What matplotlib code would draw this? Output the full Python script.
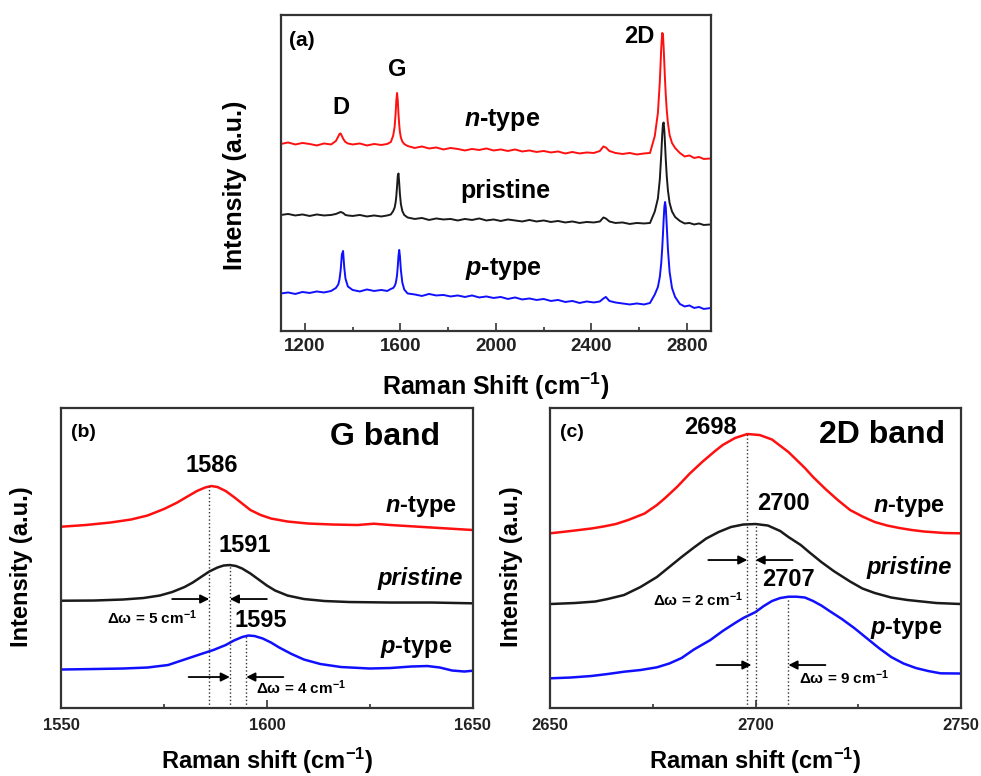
import numpy as np
import matplotlib
matplotlib.use("Agg")
import matplotlib.pyplot as plt

plt.rcParams['font.family'] = ['Liberation Sans', 'DejaVu Sans']
plt.rcParams['font.weight'] = 'bold'
plt.rcParams['axes.labelweight'] = 'bold'
plt.rcParams['mathtext.fontset'] = 'custom'
plt.rcParams['mathtext.rm'] = 'Liberation Sans:bold'
plt.rcParams['mathtext.bf'] = 'Liberation Sans:bold'
plt.rcParams['mathtext.it'] = 'Liberation Sans:italic:bold'
plt.rcParams['mathtext.default'] = 'bf'

# ---- panel (a): full spectra (shared Raman shift grid, cm-1) ----
x_a = [1100, 1130, 1160, 1190, 1220, 1250, 1280, 1310,
       1330, 1340, 1345, 1350, 1355, 1360, 1365, 1370, 1380,
       1400, 1430, 1460, 1490, 1520, 1545, 1560,
       1570, 1576, 1580, 1583, 1586, 1589, 1592, 1595, 1598, 1602, 1608, 1616, 1630,
       1660, 1690, 1720, 1750, 1780, 1810, 1840, 1870, 1900, 1930, 1960, 1990, 2020,
       2050, 2080, 2110, 2140, 2170, 2200, 2230, 2260, 2290, 2320, 2350, 2380, 2410,
       2435, 2450, 2460, 2475, 2500, 2530, 2560, 2590, 2620, 2645,
       2665, 2678, 2686, 2692, 2696, 2699, 2702, 2705, 2708, 2711, 2715, 2720, 2727, 2737, 2750,
       2770, 2790, 2810, 2830, 2850, 2870, 2900]

n_a = [187, 188.5, 186.5, 188, 187, 185.5, 187.5, 186.5,
       190, 194.5, 197, 197.5, 195, 192.5, 190.5, 189, 187.5,
       186.5, 187.5, 185.5, 187, 186, 187, 189,
       195.5, 204.5, 217.5, 230.5, 238, 230.5, 217, 206.5, 199, 193.5, 189.5, 187, 185,
       183, 184.5, 182.5, 183.5, 181.5, 183, 182, 180.5, 182, 181, 182.5, 180.5, 181.5,
       180, 181.5, 179.5, 180.5, 179, 180, 178.5, 179.5, 177.5, 179, 177.5, 178.5, 178,
       180, 184.5, 183.5, 180, 178, 177, 178, 176.5, 177.5, 178,
       195, 218, 249, 283, 298, 297, 284, 267, 250, 236, 221, 208, 196, 188, 183,
       178, 174.5, 175.5, 173, 174, 172, 172.5]

pr_a = [116, 117, 115.5, 116.5, 115, 116.5, 115.5, 116,
        117, 118, 118.5, 119, 118.5, 118, 117, 116, 115.5,
        115, 116, 114.5, 115.5, 114.5, 115.5, 116.5,
        120, 123.5, 128.5, 135, 144.5, 155, 157.5, 148, 137, 127, 120, 116, 113.5,
        112, 113, 111, 112.5, 111.5, 112, 110.5, 112, 111, 112.5, 110.5, 111.5, 110,
        111.5, 110.5, 109.5, 111, 109.5, 110.5, 109, 110, 108.5, 109.5, 108, 109, 108.5,
        109.5, 113.5, 112.5, 109.5, 108, 108.5, 107, 108, 107.5, 108,
        119.5, 132.5, 151.5, 176, 196, 206.5, 208.5, 200, 186, 171.5, 155, 140.5, 128, 119.5, 114,
        110, 107.5, 108, 106.5, 107.5, 106, 106.5]

p_a = [37.5, 38.5, 37, 39, 38, 39.5, 38.5, 40,
       43, 46.5, 51.5, 61, 76.5, 80, 63.5, 52.5, 44.5,
       41, 39.5, 41.5, 40, 41, 40, 42,
       43, 45, 47.5, 51, 56, 64.5, 75, 81, 75, 61, 48.5, 41.5, 37.5,
       36.5, 35, 37, 35.5, 36, 34.5, 35.5, 34, 35.5, 33.5, 34.5, 33, 34,
       32, 33.5, 31.5, 32.5, 31, 32, 30, 31, 29, 30, 28, 29.5, 28.5,
       29.5, 32.5, 34, 30, 28.5, 27.5, 26.5, 27.5, 26.5, 28,
       36.5, 44, 54, 68, 82.5, 96, 111, 124, 129, 123.5, 105.5, 81.5, 59, 43, 34,
       27, 24.5, 25.5, 23, 24, 22, 23]

# ---- panel (b): G band ----
xb_n = [1550, 1556, 1562, 1567, 1571, 1575, 1578, 1580.5, 1583, 1585,
        1586.5, 1588, 1590, 1592, 1594, 1596, 1598.5, 1601, 1605, 1610,
        1616, 1622, 1626, 1630, 1636, 1642, 1650]
yb_n = [181.3, 183, 185.5, 188.5, 192.5, 199, 205, 211, 217, 220.5,
        222, 221, 217, 211, 204.5, 198, 193, 189.5, 186.5, 184.5,
        183.5, 183, 184.3, 183, 181.5, 180, 178]
xb_pr = [1550, 1558, 1565, 1570, 1574, 1577, 1580, 1582, 1584, 1586,
         1588, 1589.5, 1591, 1592.5, 1594, 1596, 1598, 1600, 1602, 1605,
         1609, 1614, 1620, 1630, 1640, 1650]
yb_pr = [107.3, 107.5, 108.5, 110, 112.5, 116, 121, 125.5, 131, 136.5,
         140.5, 142.5, 143, 142, 139.5, 134.5, 128.5, 122.5, 117.5, 112.5,
         109, 107, 106, 105.5, 105.5, 104.7]
xb_p = [1550, 1558, 1565, 1571, 1576, 1580, 1584, 1587, 1590, 1592,
        1594, 1595.5, 1597, 1599, 1601, 1603, 1606, 1609, 1613, 1618,
        1625, 1630, 1635, 1639, 1642, 1645, 1648, 1650]
yb_p = [38.5, 39, 39.5, 40.5, 43, 48.5, 54, 58, 63, 67.5,
        71, 72.5, 72, 69.5, 65.5, 60.5, 54, 48.5, 44, 41,
        39.5, 40, 41.5, 42, 40.5, 37.5, 36.5, 37.3]

# ---- panel (c): 2D band ----
xc_n = [2650, 2655, 2660, 2663, 2666, 2669, 2673, 2676, 2678, 2681,
        2684, 2687, 2690, 2692, 2695, 2698, 2701, 2704, 2708, 2712,
        2714, 2717, 2720, 2723, 2726, 2729, 2732, 2735, 2738, 2741,
        2746, 2750]
yc_n = [174.7, 177, 179.5, 181.5, 184, 188, 194.5, 203, 210, 221.5,
        234.5, 246, 256.5, 263, 270, 274, 273, 268.5, 256, 240,
        231, 219, 208, 198, 191.5, 186, 182.5, 180, 178, 176.5,
        175, 174.7]
xc_pr = [2650, 2656, 2661, 2664, 2668, 2672, 2676, 2679, 2682, 2685,
         2688, 2691, 2694, 2697, 2700, 2703, 2706, 2708, 2711, 2713,
         2716, 2719, 2723, 2726, 2729, 2733, 2737, 2744, 2750]
yc_pr = [104, 105, 106.5, 109, 113, 121, 131, 141, 151, 160.5,
         169.5, 176, 181, 183.5, 184, 182.5, 177, 171, 163, 156,
         146, 137, 126.5, 119.5, 115, 110.5, 108, 105, 104]
xc_p = [2650, 2655, 2660, 2664, 2668, 2672, 2676, 2679, 2682, 2685,
        2689, 2692, 2695, 2697, 2700, 2702, 2704, 2706, 2708, 2710,
        2712, 2714, 2716, 2718, 2721, 2724, 2727, 2730, 2733, 2736,
        2739, 2742, 2745, 2750]
yc_p = [29.7, 30.5, 32, 34, 36.3, 38, 40.7, 44.5, 50, 58.5,
        68, 77, 85, 90, 96, 102, 107, 110, 111.3, 111.3,
        110.5, 107, 102.5, 97, 89, 80, 70, 60, 51, 44.5,
        40, 37, 34.7, 34.5]

# peak positions (label, line x, line top)
peaks_b = [("1586", 1586, 222), ("1591", 1591, 143), ("1595", 1595, 72.5)]
peaks_c = [("2698", 2698, 274), ("2700", 2700, 184), ("2707", 2708, 111.3)]

RED, BLACK, BLUE = '#ff1010', '#1a1a1a', '#1010ff'
SPINE = '#333333'

fig = plt.figure(figsize=(9.81, 7.76), dpi=100)


def style(ax, fs):
    for s in ax.spines.values():
        s.set_color(SPINE)
        s.set_linewidth(1.6)
    ax.tick_params(axis='x', which='both', direction='in', top=False, labelsize=fs,
                   colors=SPINE, labelcolor='#222222', width=1.2)
    ax.tick_params(axis='x', which='major', length=6)
    ax.tick_params(axis='x', which='minor', length=3)
    ax.set_yticks([])
    for t in ax.get_xticklabels():
        t.set_fontweight('bold')


# (a)
ax = fig.add_axes([0.2864, 0.5735, 0.4383, 0.4072])
ax.plot(x_a, n_a, color=RED, lw=1.4)
ax.plot(x_a, pr_a, color=BLACK, lw=1.4)
ax.plot(x_a, p_a, color=BLUE, lw=1.4)
ax.set_xlim(1100, 2900)
ax.set_ylim(0, 316)
ax.set_xticks([1200, 1600, 2000, 2400, 2800])
ax.set_xticks(np.arange(1200, 2900, 200), minor=True)
style(ax, 13.5)
ax.tick_params(axis='x', pad=5)
ax.set_xlabel('Raman Shift (cm$^{-1}$)', fontsize=18)
ax.xaxis.set_label_coords(0.5, -0.125)
ax.set_ylabel('Intensity (a.u.)', fontsize=18)
ax.yaxis.set_label_coords(-0.08, 0.462)
ax.text(1135, 290, '(a)', fontsize=15, ha='left', va='center')
ax.text(1349, 223, 'D', fontsize=17, ha='center', va='center')
ax.text(1587, 261, 'G', fontsize=17, ha='center', va='center')
ax.text(2600, 294, '2D', fontsize=17, ha='center', va='center')
ax.text(2027, 211, '$\\mathit{n}$-type', fontsize=18, ha='center', va='center')
ax.text(2041, 140, 'pristine', fontsize=18, ha='center', va='center')
ax.text(2032, 62, '$\\mathit{p}$-type', fontsize=18, ha='center', va='center')


def arrow(ax, x0, x1, y):
    ax.annotate('', xy=(x1, y), xytext=(x0, y),
                arrowprops=dict(arrowstyle='-|>', color='black', lw=1.3,
                                mutation_scale=13, shrinkA=0, shrinkB=0))


# (b)
ax = fig.add_axes([0.0622, 0.0876, 0.4197, 0.3866])
ax.plot(xb_n, yb_n, color=RED, lw=1.8)
ax.plot(xb_pr, yb_pr, color=BLACK, lw=1.8)
ax.plot(xb_p, yb_p, color=BLUE, lw=1.8)
ax.set_xlim(1550, 1650)
ax.set_ylim(0, 300)
ax.set_xticks([1550, 1600, 1650])
ax.set_xticks([1575, 1625], minor=True)
style(ax, 12)
ax.tick_params(axis='x', pad=7)
for lab, xp, yp in peaks_b:
    ax.vlines(xp, 0, yp, colors='#333333', linestyles=':', lw=1.0)
ax.text(1586.6, 243, '1586', fontsize=17, ha='center', va='center')
ax.text(1594.7, 163, '1591', fontsize=17, ha='center', va='center')
ax.text(1598.6, 88, '1595', fontsize=17, ha='center', va='center')
arrow(ax, 1577, 1586, 109)
arrow(ax, 1600, 1591, 109)
arrow(ax, 1581, 1591, 31)
arrow(ax, 1604, 1595, 31)
ax.text(1572, 90, '\u0394\u03c9 = 5 cm$^{-1}$', fontsize=11, ha='center', va='center')
ax.text(1608.3, 20, '\u0394\u03c9 = 4 cm$^{-1}$', fontsize=11, ha='center', va='center')
ax.text(1552.5, 276, '(b)', fontsize=14, ha='left', va='center')
ax.text(1642, 271, 'G band', fontsize=23, ha='right', va='center')
ax.text(1646.2, 202, '$\\mathit{n}$-type', fontsize=17, ha='right', va='center')
ax.text(1647.6, 130, 'pristine', fontsize=17, ha='right', va='center', style='italic')
ax.text(1645.1, 61, '$\\mathit{p}$-type', fontsize=17, ha='right', va='center')
ax.set_xlabel('Raman shift (cm$^{-1}$)', fontsize=17)
ax.xaxis.set_label_coords(0.5, -0.125)
ax.set_ylabel('Intensity (a.u.)', fontsize=17)
ax.yaxis.set_label_coords(-0.068, 0.471)

# (c)
ax = fig.add_axes([0.5607, 0.0876, 0.4190, 0.3866])
ax.plot(xc_n, yc_n, color=RED, lw=1.8)
ax.plot(xc_pr, yc_pr, color=BLACK, lw=1.8)
ax.plot(xc_p, yc_p, color=BLUE, lw=1.8)
ax.set_xlim(2650, 2750)
ax.set_ylim(0, 300)
ax.set_xticks([2650, 2700, 2750])
ax.set_xticks([2675, 2725], minor=True)
style(ax, 12)
ax.tick_params(axis='x', pad=7)
for lab, xp, yp in peaks_c:
    ax.vlines(xp, 0, yp, colors='#333333', linestyles=':', lw=1.0)
ax.text(2689, 281, '2698', fontsize=17, ha='center', va='center')
ax.text(2706.8, 205, '2700', fontsize=17, ha='center', va='center')
ax.text(2708, 129, '2707', fontsize=17, ha='center', va='center')
arrow(ax, 2688.5, 2698, 148)
arrow(ax, 2709, 2700, 148)
arrow(ax, 2690.5, 2699, 43)
arrow(ax, 2717, 2708, 43)
ax.text(2686, 108, '\u0394\u03c9 = 2 cm$^{-1}$', fontsize=11, ha='center', va='center')
ax.text(2721.5, 30, '\u0394\u03c9 = 9 cm$^{-1}$', fontsize=11, ha='center', va='center')
ax.text(2652.3, 276, '(c)', fontsize=14, ha='left', va='center')
ax.text(2746, 273, '2D band', fontsize=23, ha='right', va='center')
ax.text(2746.1, 202, '$\\mathit{n}$-type', fontsize=17, ha='right', va='center')
ax.text(2747.7, 141, 'pristine', fontsize=17, ha='right', va='center', style='italic')
ax.text(2745.5, 80, '$\\mathit{p}$-type', fontsize=17, ha='right', va='center')
ax.set_xlabel('Raman shift (cm$^{-1}$)', fontsize=17)
ax.xaxis.set_label_coords(0.5, -0.125)
ax.set_ylabel('Intensity (a.u.)', fontsize=17)
ax.yaxis.set_label_coords(-0.065, 0.471)

fig.savefig('out.png', dpi=100)
